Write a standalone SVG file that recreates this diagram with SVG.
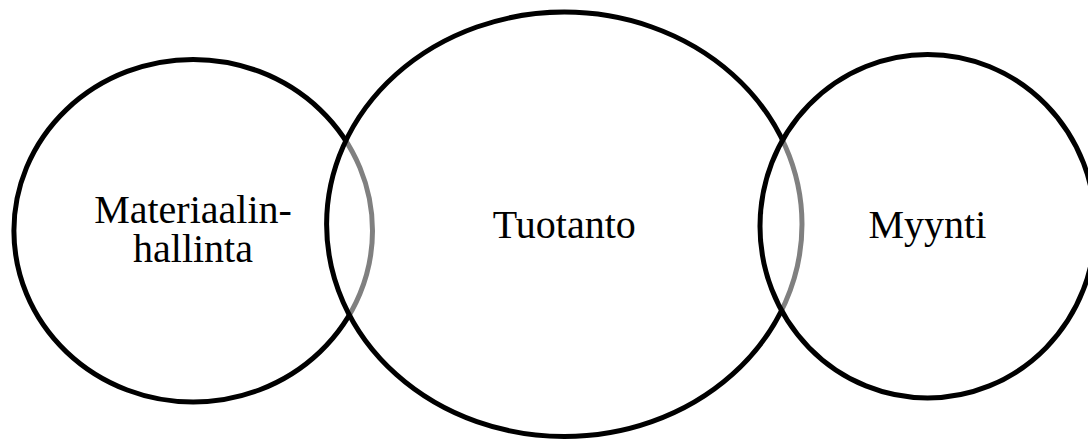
<svg xmlns="http://www.w3.org/2000/svg" width="1088" height="441" viewBox="0 0 1088 441">
<style>
.c{fill:#fff;fill-opacity:0.5;stroke:#000;stroke-width:5}
.t{font-family:"Liberation Serif","Times New Roman",serif;font-size:40px;fill:#000;text-anchor:middle}
</style>
<rect width="1088" height="441" fill="#fff"/>
<g id="materiaalinhallinta">
<ellipse class="c" cx="193.2" cy="230.7" rx="179.3" ry="171.3"/>
<text class="t" x="193" y="222.5">Materiaalin-</text>
<text class="t" x="193" y="261.5">hallinta</text>
</g>
<g id="tuotanto">
<ellipse class="c" cx="564.3" cy="224.3" rx="237.7" ry="212.2"/>
<text class="t" x="564.3" y="238.3">Tuotanto</text>
</g>
<g id="myynti">
<ellipse class="c" cx="927.6" cy="226.2" rx="167.6" ry="171.8"/>
<text class="t" x="927.4" y="238.3">Myynti</text>
</g>
<g id="connectors"/>
</svg>
